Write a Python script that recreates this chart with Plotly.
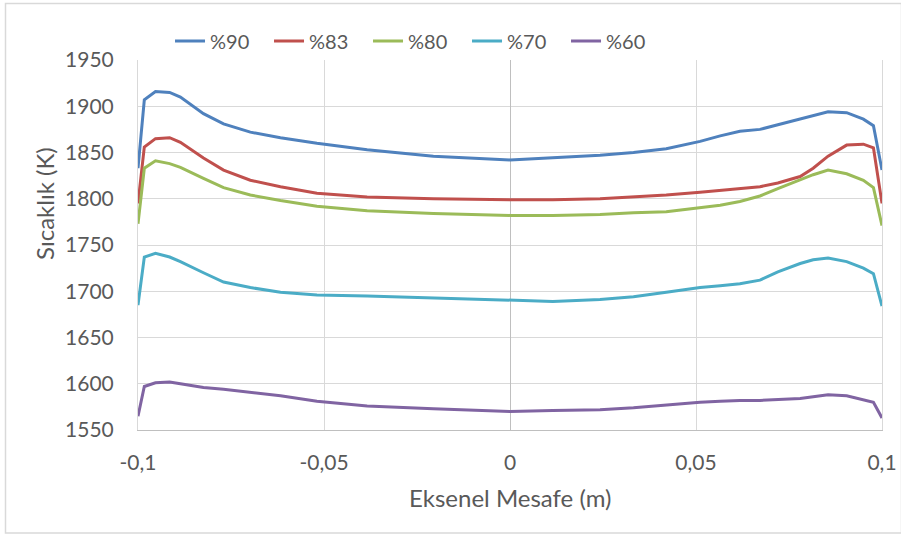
import plotly.graph_objects as go

# Axial position (m)
x_pos = [-0.1, -0.0983, -0.0953, -0.0915, -0.0886, -0.0841, -0.0824, -0.077,
         -0.0698, -0.0617, -0.0519, -0.0384, -0.0206, 0.0, 0.0115, 0.0242,
         0.0332, 0.042, 0.0511, 0.0565, 0.0618, 0.0672, 0.072, 0.078, 0.0815,
         0.0855, 0.0905, 0.095, 0.0977, 0.1]

# Temperature profiles (K)
t_90 = [1833, 1907, 1916, 1915, 1910, 1897, 1892, 1881, 1872, 1866, 1860, 1853,
        1846, 1842, 1844, 1847, 1850, 1854, 1862, 1868, 1873, 1875, 1880, 1886,
        1890, 1894, 1893, 1886, 1879, 1831]
t_83 = [1795, 1856, 1865, 1866, 1861, 1849, 1844, 1831, 1820, 1813, 1806, 1802,
        1800, 1799, 1799, 1800, 1802, 1804, 1807, 1809, 1811, 1813, 1817, 1824,
        1833, 1846, 1858, 1859, 1855, 1795]
t_80 = [1773, 1833, 1841, 1838, 1834, 1825, 1822, 1812, 1804, 1798, 1792, 1787,
        1784, 1782, 1782, 1783, 1785, 1786, 1790, 1793, 1797, 1803, 1811, 1820,
        1826, 1831, 1827, 1820, 1812, 1771]
t_70 = [1685, 1737, 1741, 1737, 1732, 1723, 1720, 1710, 1704, 1699, 1696, 1695,
        1693, 1690, 1689, 1691, 1694, 1699, 1704, 1706, 1708, 1712, 1721, 1730,
        1734, 1736, 1732, 1725, 1719, 1684]
t_60 = [1565, 1597, 1601, 1602, 1600, 1597, 1596, 1594, 1591, 1587, 1581, 1576,
        1573, 1570, 1571, 1572, 1574, 1577, 1580, 1581, 1582, 1582, 1583, 1584,
        1586, 1588, 1587, 1583, 1580, 1563]

series_names = ["%90", "%83", "%80", "%70", "%60"]
series_values = [t_90, t_83, t_80, t_70, t_60]
series_colors = ["#4F81BD", "#C0504D", "#9BBB59", "#4BACC6", "#8064A2"]

x_ticks = [-0.1, -0.05, 0, 0.05, 0.1]
x_tick_text = ["-0,1", "-0,05", "0", "0,05", "0,1"]
y_ticks = [1550, 1600, 1650, 1700, 1750, 1800, 1850, 1900, 1950]

FONT = "Lato"
TXT = "#595959"
GRID = "#D9D9D9"

fig = go.Figure()
for name, vals, col in zip(series_names, series_values, series_colors):
    fig.add_trace(go.Scatter(x=x_pos, y=vals, mode="lines", name=name,
                             line=dict(color=col, width=3)))

fig.update_layout(
    width=901, height=534,
    margin=dict(l=138, r=19, t=60, b=104, autoexpand=False),
    paper_bgcolor="white", plot_bgcolor="white",
    font=dict(family=FONT, size=21, color=TXT),
    showlegend=True,
    legend=dict(orientation="h", xref="container", yref="container",
                x=0.1887, y=0.923, xanchor="left", yanchor="middle",
                entrywidth=54, entrywidthmode="pixels",
                font=dict(family=FONT, size=20, color=TXT),
                bgcolor="rgba(0,0,0,0)"),
    xaxis=dict(range=[-0.1, 0.1], tickvals=x_ticks, ticktext=x_tick_text,
               showgrid=True, gridcolor=GRID, gridwidth=1,
               zeroline=True, zerolinecolor="#BFBFBF", zerolinewidth=1,
               showline=True, linecolor="#BFBFBF", linewidth=1,
               ticks="", ticklabelstandoff=14,
               tickfont=dict(family=FONT, size=21, color=TXT)),
    yaxis=dict(range=[1550, 1950], tickvals=y_ticks,
               showgrid=True, gridcolor=GRID, gridwidth=1,
               zeroline=False, showline=True, linecolor=GRID, linewidth=1,
               mirror=True, ticks="", ticklabelstandoff=19,
               tickfont=dict(family=FONT, size=21, color=TXT)),
    annotations=[
        dict(text="Eksenel Mesafe (m)", xref="paper", yref="paper",
             x=0.5, y=(430 - 497) / 370, xanchor="center", yanchor="middle",
             showarrow=False, font=dict(family=FONT, size=24, color=TXT)),
        dict(text="Sıcaklık (K)", xref="paper", yref="paper",
             x=(44 - 138) / 744, y=(430 - 204) / 370, xanchor="center",
             yanchor="middle", textangle=-90, showarrow=False,
             font=dict(family=FONT, size=24, color=TXT)),
    ],
    shapes=[
        dict(type="rect", xref="paper", yref="paper",
             x0=(5.5 - 138) / 744, x1=(901.5 - 138) / 744,
             y0=(430 - 533) / 370, y1=(430 - 3.5) / 370,
             line=dict(color=GRID, width=1.5), fillcolor="rgba(0,0,0,0)",
             layer="below"),
    ],
)

fig.write_html("out.html")
